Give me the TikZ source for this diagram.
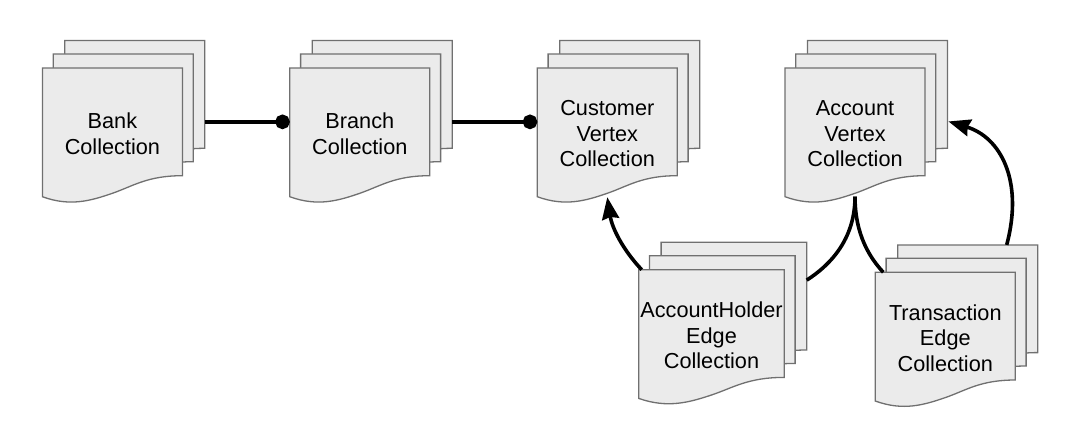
\documentclass[tikz,border=0pt]{standalone}
\usepackage{fontspec}
\setmainfont{Liberation Sans}
\usetikzlibrary{arrows.meta}

\definecolor{sheetfill}{HTML}{EBEBEB}
\definecolor{sheetline}{HTML}{707070}

\tikzset{
    sheet/.style={draw=sheetline, fill=sheetfill, line width=1.3pt, line join=miter},
    sheetbox/.style={inner sep=0pt, outer sep=0pt, minimum height=107.7pt},
    doclabel/.style={align=center, inner sep=0pt, font=\fontsize{21.7}{25.6}\selectfont},
    conn/.style={line width=3.6pt, black},
    reflink/.style={conn, -{Circle[length=14.6pt, width=14.6pt]}},
    edgelink/.style={conn, -{Stealth[length=22pt, width=17pt, inset=2pt]}}
}

% three stacked pages: name, left, top, width, text
\newcommand{\docstack}[5]{%
    \foreach \dx/\dy/\part in {22.4/-27.4/back, 10.8/-14/mid, 0/0/front} {
        \pgfmathsetmacro{\sx}{#2+\dx}
        \pgfmathsetmacro{\sy}{#3+\dy}
        \draw[sheet] (\sx, \sy) -- ({\sx+#4}, \sy) -- ({\sx+#4}, {\sy+107.7})
            .. controls ({\sx+0.75*#4}, {\sy+107.7}) and ({\sx+0.65*#4}, {\sy+118}) .. ({\sx+0.5*#4}, {\sy+125.3})
            .. controls ({\sx+0.35*#4}, {\sy+132.5}) and ({\sx+0.2*#4}, {\sy+139}) .. (\sx, {\sy+128.7})
            -- cycle;
        \node[sheetbox, minimum width=#4pt] (#1\part) at ({\sx+#4/2}, {\sy+53.85}) {};
    }
    \node[doclabel] (#1label) at ({#2+#4/2}, {#3+65.8}) {#5};
}

\begin{document}
\begin{tikzpicture}[x=1pt, y=-1pt]
        \useasboundingbox (0, 0) rectangle (1073, 436);

        \docstack{bank}{42.4}{68}{140}{Bank\\Collection}
        \docstack{branch}{289.8}{68}{140}{Branch\\Collection}
        \docstack{customer}{537.3}{68}{140}{Customer\\Vertex\\Collection}
        \docstack{account}{785}{68}{140}{Account\\Vertex\\Collection}
        \docstack{holder}{638.7}{269.7}{145.6}{AccountHolder\\Edge\\Collection}
        \docstack{transaction}{875.3}{272.3}{140}{Transaction\\Edge\\Collection}

        \coordinate (customerfoot) at ([yshift=-21.5pt]customerfront.south);
        \coordinate (accountfoot) at ([yshift=-21pt]accountfront.south);
        \coordinate (holdertop) at ([xshift=3pt]holderfront.north west);
        \coordinate (holderside) at ([yshift=16pt]holderback.east);
        \coordinate (transtop) at ([xshift=8pt]transactionfront.north west);
        \coordinate (transback) at ([xshift=-31pt]transactionback.north east);
        \coordinate (accountside) at ([xshift=1pt, yshift=-27pt]accountback.east);

        \draw[reflink] (bankfront -| bankback.east) -- (branchfront.west);
        \draw[reflink] (branchfront -| branchback.east) -- (customerfront.west);

        \draw[edgelink] (holdertop) .. controls (623, 250) and (612, 228) .. (customerfoot);
        \draw[conn] (holderside) .. controls (835, 262) and (855, 235) .. (accountfoot);
        \draw[conn] (transtop) .. controls (870, 258) and (855, 235) .. (accountfoot);
        \draw[edgelink] (transback) .. controls (1024, 180) and (1000, 137) .. (accountside);
    \end{tikzpicture}
\end{document}
